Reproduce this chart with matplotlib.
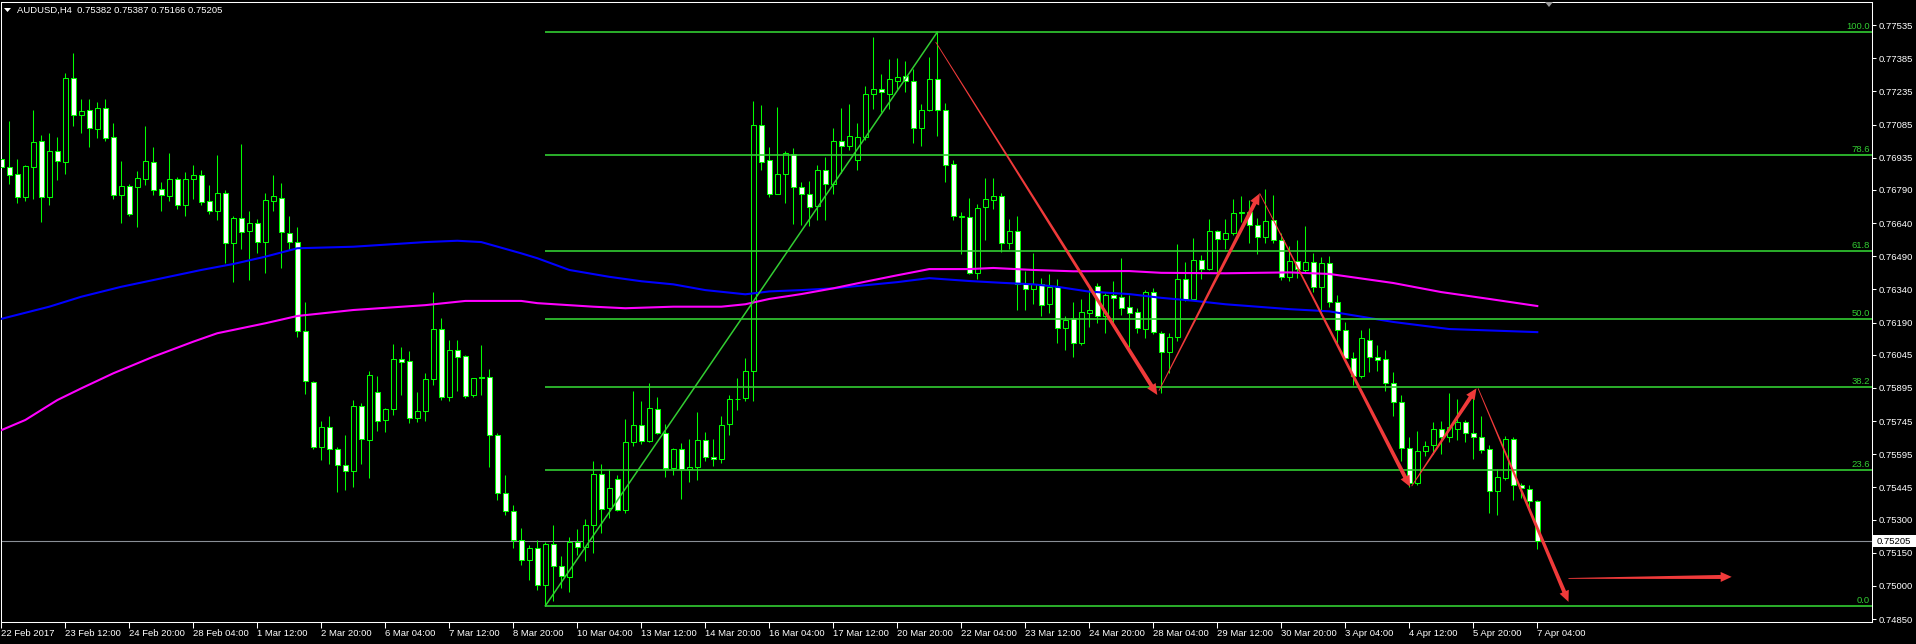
import matplotlib
matplotlib.use('Agg')
import matplotlib.pyplot as plt
import numpy as np
from matplotlib.patches import Rectangle, Polygon
from matplotlib.transforms import IdentityTransform, blended_transform_factory

plt.rcParams['font.family'] = ['Liberation Sans', 'DejaVu Sans']
FS = 6.8

# AUDUSD H4 candles, oldest first (last one = 7 Apr 04:00)
opens = [
    0.76928, 0.76895, 0.76860, 0.76759, 0.76895, 0.77009, 0.76756, 0.76964, 0.76917, 0.77294,
    0.77130, 0.77149, 0.77066, 0.77158, 0.77027, 0.76768, 0.76807, 0.76801, 0.76840, 0.76914,
    0.76792, 0.76763, 0.76838, 0.76723, 0.76838, 0.76856, 0.76738, 0.76693, 0.76774, 0.76551,
    0.76661, 0.76605, 0.76639, 0.76556, 0.76741, 0.76752, 0.76594, 0.76553, 0.76151, 0.75920,
    0.75626, 0.75717, 0.75617, 0.75545, 0.75518, 0.75812, 0.75658, 0.75875, 0.75750, 0.75798,
    0.76024, 0.76015, 0.75757, 0.75789, 0.75934, 0.76160, 0.75852, 0.76065, 0.76039, 0.75861,
    0.75945, 0.75945, 0.75680, 0.75418, 0.75338, 0.75207, 0.75117, 0.75171, 0.75003, 0.75189,
    0.75090, 0.75041, 0.75199, 0.75177, 0.75275, 0.75507, 0.75350, 0.75485, 0.75341, 0.75651,
    0.75729, 0.75656, 0.75800, 0.75693, 0.75531, 0.75618, 0.75528, 0.75539, 0.75660, 0.75583,
    0.75573, 0.75732, 0.75843, 0.75850, 0.75971, 0.77081, 0.76924, 0.76772, 0.76860, 0.76953,
    0.76801, 0.76773, 0.76718, 0.76882, 0.76816, 0.77012, 0.76986, 0.76927, 0.77029, 0.77225,
    0.77248, 0.77225, 0.77284, 0.77303, 0.77281, 0.77071, 0.77149, 0.77293, 0.77152, 0.76905,
    0.76668, 0.76669, 0.76415, 0.76712, 0.76745, 0.76764, 0.76550, 0.76602, 0.76363, 0.76342,
    0.76366, 0.76273, 0.76349, 0.76165, 0.76209, 0.76099, 0.76235, 0.76355, 0.76221, 0.76313,
    0.76306, 0.76259, 0.76236, 0.76162, 0.76327, 0.76143, 0.76056, 0.76123, 0.76387, 0.76298,
    0.76471, 0.76431, 0.76603, 0.76566, 0.76594, 0.76684, 0.76690, 0.76630, 0.76577, 0.76652,
    0.76562, 0.76395, 0.76467, 0.76428, 0.76462, 0.76351, 0.76458, 0.76284, 0.76156, 0.76029,
    0.75950, 0.76111, 0.76033, 0.76024, 0.75916, 0.75830, 0.75622, 0.75464, 0.75608, 0.75638,
    0.75708, 0.75671, 0.75710, 0.75739, 0.75690, 0.75674, 0.75617, 0.75427, 0.75489, 0.75662,
    0.75456, 0.75436, 0.75382]
highs = [
    0.76978, 0.77101, 0.76929, 0.76902, 0.77151, 0.77038, 0.77046, 0.77029, 0.77318, 0.77408,
    0.77199, 0.77199, 0.77187, 0.77199, 0.77092, 0.76920, 0.76816, 0.76875, 0.77078, 0.76984,
    0.76825, 0.76956, 0.76848, 0.76871, 0.76902, 0.76880, 0.76812, 0.76947, 0.76789, 0.76672,
    0.76996, 0.76693, 0.76658, 0.76774, 0.76857, 0.76820, 0.76672, 0.76621, 0.76282, 0.75926,
    0.75746, 0.75768, 0.75626, 0.75682, 0.75840, 0.75826, 0.75972, 0.75949, 0.75805, 0.76093,
    0.76078, 0.76060, 0.75876, 0.75962, 0.76327, 0.76211, 0.76111, 0.76111, 0.76043, 0.75941,
    0.76089, 0.75979, 0.75691, 0.75501, 0.75365, 0.75261, 0.75185, 0.75207, 0.75199, 0.75275,
    0.75137, 0.75223, 0.75258, 0.75301, 0.75566, 0.75549, 0.75528, 0.75502, 0.75756, 0.75883,
    0.75835, 0.75919, 0.75852, 0.75734, 0.75623, 0.75644, 0.75662, 0.75788, 0.75696, 0.75666,
    0.75770, 0.75864, 0.75940, 0.76032, 0.77191, 0.77173, 0.76983, 0.77163, 0.76966, 0.76977,
    0.76827, 0.76830, 0.76901, 0.76939, 0.77069, 0.77158, 0.77177, 0.77092, 0.77260, 0.77481,
    0.77315, 0.77381, 0.77386, 0.77371, 0.77336, 0.77177, 0.77390, 0.77503, 0.77182, 0.76925,
    0.76692, 0.76752, 0.76726, 0.76843, 0.76843, 0.76775, 0.76657, 0.76674, 0.76423, 0.76504,
    0.76391, 0.76408, 0.76385, 0.76221, 0.76282, 0.76297, 0.76352, 0.76368, 0.76322, 0.76378,
    0.76482, 0.76315, 0.76255, 0.76337, 0.76346, 0.76152, 0.76144, 0.76545, 0.76464, 0.76572,
    0.76495, 0.76658, 0.76608, 0.76658, 0.76748, 0.76762, 0.76744, 0.76664, 0.76794, 0.76767,
    0.76594, 0.76536, 0.76563, 0.76627, 0.76506, 0.76485, 0.76491, 0.76315, 0.76193, 0.76057,
    0.76156, 0.76165, 0.76089, 0.76066, 0.75967, 0.75863, 0.75671, 0.75700, 0.75655, 0.75741,
    0.75745, 0.75873, 0.75843, 0.75750, 0.75885, 0.75768, 0.75637, 0.75528, 0.75677, 0.75673,
    0.75466, 0.75456, 0.75387]
lows = [
    0.76876, 0.76816, 0.76732, 0.76741, 0.76750, 0.76646, 0.76721, 0.76834, 0.76862, 0.77078,
    0.77048, 0.76985, 0.77024, 0.77012, 0.76748, 0.76641, 0.76672, 0.76623, 0.76813, 0.76767,
    0.76694, 0.76740, 0.76703, 0.76673, 0.76750, 0.76723, 0.76681, 0.76654, 0.76458, 0.76375,
    0.76523, 0.76382, 0.76503, 0.76413, 0.76696, 0.76438, 0.76518, 0.76126, 0.75866, 0.75619,
    0.75569, 0.75549, 0.75426, 0.75433, 0.75448, 0.75551, 0.75489, 0.75701, 0.75697, 0.75772,
    0.75863, 0.75737, 0.75742, 0.75745, 0.75908, 0.75840, 0.75835, 0.75879, 0.75848, 0.75855,
    0.75863, 0.75536, 0.75388, 0.75320, 0.75171, 0.75094, 0.75026, 0.74981, 0.74910, 0.74934,
    0.74991, 0.74972, 0.75142, 0.75112, 0.75147, 0.75237, 0.75306, 0.75337, 0.75329, 0.75632,
    0.75641, 0.75652, 0.75687, 0.75492, 0.75500, 0.75393, 0.75471, 0.75479, 0.75566, 0.75540,
    0.75554, 0.75684, 0.75795, 0.75835, 0.75835, 0.76880, 0.76758, 0.76770, 0.76730, 0.76636,
    0.76631, 0.76626, 0.76654, 0.76654, 0.76770, 0.76865, 0.76969, 0.76882, 0.77015, 0.77156,
    0.77142, 0.77156, 0.77246, 0.77232, 0.77002, 0.76989, 0.77147, 0.77035, 0.76827, 0.76654,
    0.76498, 0.76410, 0.76385, 0.76562, 0.76702, 0.76510, 0.76522, 0.76247, 0.76247, 0.76276,
    0.76219, 0.76233, 0.76098, 0.76068, 0.76036, 0.76089, 0.76171, 0.76189, 0.76144, 0.76179,
    0.76224, 0.76078, 0.76144, 0.76122, 0.76138, 0.75870, 0.75961, 0.76107, 0.76288, 0.76292,
    0.76388, 0.76428, 0.76415, 0.76523, 0.76586, 0.76646, 0.76548, 0.76501, 0.76551, 0.76548,
    0.76382, 0.76379, 0.76390, 0.76413, 0.76327, 0.76224, 0.76262, 0.76089, 0.76012, 0.75908,
    0.75941, 0.75968, 0.75972, 0.75882, 0.75769, 0.75564, 0.75448, 0.75456, 0.75587, 0.75597,
    0.75597, 0.75650, 0.75659, 0.75652, 0.75575, 0.75599, 0.75328, 0.75322, 0.75478, 0.75389,
    0.75398, 0.75358, 0.75166]
closes = [
    0.76895, 0.76858, 0.76756, 0.76896, 0.77005, 0.76756, 0.76964, 0.76919, 0.77294, 0.77130,
    0.77145, 0.77071, 0.77158, 0.77026, 0.76768, 0.76807, 0.76682, 0.76842, 0.76919, 0.76791,
    0.76765, 0.76838, 0.76720, 0.76838, 0.76856, 0.76736, 0.76693, 0.76774, 0.76548, 0.76661,
    0.76601, 0.76640, 0.76556, 0.76743, 0.76762, 0.76598, 0.76553, 0.76152, 0.75926, 0.75626,
    0.75717, 0.75617, 0.75545, 0.75518, 0.75812, 0.75664, 0.75952, 0.75744, 0.75798, 0.76024,
    0.76013, 0.75757, 0.75789, 0.75934, 0.76160, 0.75852, 0.76065, 0.76033, 0.75857, 0.75938,
    0.75941, 0.75680, 0.75418, 0.75337, 0.75207, 0.75117, 0.75171, 0.75004, 0.75189, 0.75090,
    0.75046, 0.75199, 0.75177, 0.75275, 0.75507, 0.75348, 0.75443, 0.75341, 0.75652, 0.75729,
    0.75656, 0.75805, 0.75691, 0.75531, 0.75618, 0.75528, 0.75539, 0.75660, 0.75583, 0.75573,
    0.75729, 0.75845, 0.75847, 0.75973, 0.77081, 0.76918, 0.76772, 0.76860, 0.76955, 0.76801,
    0.76773, 0.76714, 0.76882, 0.76816, 0.77012, 0.76986, 0.77035, 0.77031, 0.77225, 0.77248,
    0.77230, 0.77289, 0.77298, 0.77281, 0.77068, 0.77149, 0.77293, 0.77149, 0.76903, 0.76674,
    0.76673, 0.76415, 0.76709, 0.76747, 0.76764, 0.76550, 0.76602, 0.76363, 0.76342, 0.76366,
    0.76269, 0.76349, 0.76165, 0.76203, 0.76099, 0.76236, 0.76245, 0.76221, 0.76313, 0.76302,
    0.76257, 0.76235, 0.76164, 0.76327, 0.76146, 0.76056, 0.76123, 0.76387, 0.76298, 0.76471,
    0.76431, 0.76603, 0.76566, 0.76594, 0.76685, 0.76688, 0.76630, 0.76575, 0.76648, 0.76562,
    0.76395, 0.76467, 0.76431, 0.76462, 0.76351, 0.76458, 0.76284, 0.76156, 0.76029, 0.75950,
    0.76120, 0.76033, 0.76021, 0.75916, 0.75830, 0.75624, 0.75464, 0.75608, 0.75633, 0.75708,
    0.75671, 0.75717, 0.75739, 0.75690, 0.75671, 0.75613, 0.75427, 0.75491, 0.75662, 0.75454,
    0.75442, 0.75382, 0.75205]

# moving averages, read at sample bars
blue_idx = [0, 6, 10, 15, 20, 25, 29, 33, 37, 44, 53, 57, 60, 65, 67, 71, 76, 80, 84, 88, 93,
            96, 100, 104, 108, 112, 116, 121, 125, 129, 132, 136, 141, 145, 149, 153, 157,
            161, 166, 174, 181, 192]
blue_val = [0.76207, 0.76262, 0.76307, 0.76352, 0.76390, 0.76428, 0.76455, 0.76488, 0.76526,
            0.76533, 0.76554, 0.76560, 0.76554, 0.76503, 0.76481, 0.76428, 0.76397, 0.76377,
            0.76363, 0.76337, 0.76318, 0.76331, 0.76337, 0.76345, 0.76359, 0.76373, 0.76391,
            0.76378, 0.76370, 0.76363, 0.76352, 0.76330, 0.76319, 0.76302, 0.76289, 0.76273,
            0.76262, 0.76251, 0.76241, 0.76193, 0.76161, 0.76147]
mag_idx = [0, 3, 7, 10, 14, 19, 24, 27, 33, 37, 44, 53, 58, 65, 67, 74, 78, 84, 90, 93, 96,
           100, 104, 108, 112, 116, 121, 124, 129, 134, 141, 145, 153, 161, 166, 174, 180,
           186, 192]
mag_val = [0.75704, 0.75750, 0.75840, 0.75893, 0.75961, 0.76036, 0.76104, 0.76142, 0.76187,
           0.76220, 0.76247, 0.76269, 0.76288, 0.76288, 0.76278, 0.76262, 0.76255, 0.76262,
           0.76262, 0.76273, 0.76297, 0.76319, 0.76345, 0.76375, 0.76404, 0.76432, 0.76432,
           0.76437, 0.76428, 0.76422, 0.76423, 0.76415, 0.76413, 0.76417, 0.76410, 0.76369,
           0.76328, 0.76297, 0.76265]

# fibo retracement drawn from the 9 Mar low to the 21 Mar high
fib_start_bar, fib_end_bar = 68, 117
fib_low, fib_high = 0.74910, 0.77503
fib_levels = [0.0, 23.6, 38.2, 50.0, 61.8, 78.6, 100.0]

# red arrows: (bar, price) -> (bar, price)
arrow_x0 = [116.8, 144.7, 157.3, 176.3, 184.6, 195.9]
arrow_p0 = [0.77458, 0.75882, 0.76774, 0.75451, 0.75893, 0.75034]
arrow_x1 = [144.5, 157.3, 176.1, 184.4, 195.9, 216.3]
arrow_p1 = [0.75863, 0.76774, 0.75448, 0.75893, 0.74928, 0.75041]

last_price = 0.75205

ytick_vals = [0.77535, 0.77385, 0.77235, 0.77085, 0.76935, 0.76790, 0.76640, 0.76490, 0.76340,
              0.76190, 0.76045, 0.75895, 0.75745, 0.75595, 0.75445, 0.75300, 0.75150, 0.75000,
              0.74850]
xtick_bars = list(range(0, 193, 8))
xtick_labels = ['22 Feb 2017', '23 Feb 12:00', '24 Feb 20:00', '28 Feb 04:00', '1 Mar 12:00',
                '2 Mar 20:00', '6 Mar 04:00', '7 Mar 12:00', '8 Mar 20:00', '10 Mar 04:00',
                '13 Mar 12:00', '14 Mar 20:00', '16 Mar 04:00', '17 Mar 12:00', '20 Mar 20:00',
                '22 Mar 04:00', '23 Mar 12:00', '24 Mar 20:00', '28 Mar 04:00', '29 Mar 12:00',
                '30 Mar 20:00', '3 Apr 04:00', '4 Apr 12:00', '5 Apr 20:00', '7 Apr 04:00']

LIME = '#00ff00'
FIB = '#32cd32'
RED = '#f03a3a'

W, H = 1916, 644
fig = plt.figure(figsize=(W / 100, H / 100), dpi=100, facecolor='black')
ax = fig.add_axes([1 / W, (H - 622) / H, 1871 / W, 620 / H])
ax.set_facecolor('black')
ax.set_xlim(-0.04, 233.84)
ax.set_ylim(0.74837, 0.77639)

# candles
for i in range(len(opens)):
    o, h, l, c = opens[i], highs[i], lows[i], closes[i]
    ax.vlines(i, l, h, color=LIME, lw=0.75, zorder=2)
    if abs(c - o) < 0.00003:
        ax.hlines(c, i - 0.31, i + 0.31, color=LIME, lw=1.0, zorder=3)
    else:
        face = 'black' if c > o else 'white'
        ax.add_patch(Rectangle((i - 0.31, min(o, c)), 0.62, abs(c - o), facecolor=face,
                               edgecolor=LIME, lw=0.75, zorder=3))

# moving averages
ax.plot(blue_idx, blue_val, color='#0000ff', lw=1.5, zorder=4)
ax.plot(mag_idx, mag_val, color='#ff00ff', lw=1.5, zorder=4)

# current price line
ax.axhline(last_price, color='#8a8f96', lw=0.8, zorder=1)

# fibo
xmax = ax.get_xlim()[1]
trans_label = blended_transform_factory(ax.transAxes, ax.transData)
for lev in fib_levels:
    val = fib_low + lev / 100 * (fib_high - fib_low)
    ax.hlines(val, fib_start_bar, xmax, color=FIB, lw=1.2, zorder=5)
    ax.annotate(f'{lev:.1f}', xy=(1, val), xycoords=trans_label, xytext=(-2, 1),
                textcoords='offset pixels', ha='right', va='bottom', color=FIB, fontsize=FS,
                zorder=6)
ax.plot([fib_start_bar, fib_end_bar], [fib_low, fib_high], color=FIB, lw=1.1, zorder=5)


def taper_arrow(p0, p1, w0, w1, head_len=11, head_w=10):
    a = ax.transData.transform(p0)
    b = ax.transData.transform(p1)
    d = b - a
    u = d / np.hypot(*d)
    n = np.array([-u[1], u[0]])
    base = b - u * head_len
    pts = [a + n * w0 / 2, base + n * w1 / 2, base + n * head_w / 2, b,
           base - n * head_w / 2, base - n * w1 / 2, a - n * w0 / 2]
    ax.add_patch(Polygon(pts, closed=True, transform=IdentityTransform(),
                         facecolor=RED, edgecolor='none', zorder=7))


for k in range(len(arrow_x0)):
    taper_arrow((arrow_x0[k], arrow_p0[k]), (arrow_x1[k], arrow_p1[k]), 0.8, 4.0)

# axes styling
for sp in ax.spines.values():
    sp.set_color('white')
    sp.set_linewidth(0.75)
ax.yaxis.tick_right()
ax.set_yticks(ytick_vals)
ax.set_yticklabels([f'{v:.5f}' for v in ytick_vals])
ax.tick_params(axis='y', colors='white', length=3, width=0.75, pad=2, labelsize=FS)
ax.set_xticks(xtick_bars)
ax.set_xticklabels(xtick_labels, ha='left')
ax.tick_params(axis='x', colors='white', length=4, width=0.75, pad=1, labelsize=FS)

# price box on the axis
fig.add_artist(Rectangle((1873, H - 547), 43, 12, transform=IdentityTransform(),
                         facecolor='white', edgecolor='none', zorder=10))
fig.text(1877 / W, (H - 541) / H, f'{last_price:.5f}', color='black', fontsize=FS,
         va='center', ha='left', zorder=11)

# header
fig.add_artist(Polygon([[4, H - 8], [11, H - 8], [7.5, H - 12]], closed=True,
                       transform=IdentityTransform(), facecolor='white', edgecolor='none'))
fig.text(17 / W, 1 - 10 / H, 'AUDUSD,H4  0.75382 0.75387 0.75166 0.75205', color='white',
         fontsize=FS, va='center', ha='left')

# chart shift marker
fig.add_artist(Polygon([[1545, H - 2], [1553, H - 2], [1549, H - 7]], closed=True,
                       transform=IdentityTransform(), facecolor='#9a9a9a', edgecolor='none'))

fig.savefig('out.png', dpi=100, facecolor='black')
